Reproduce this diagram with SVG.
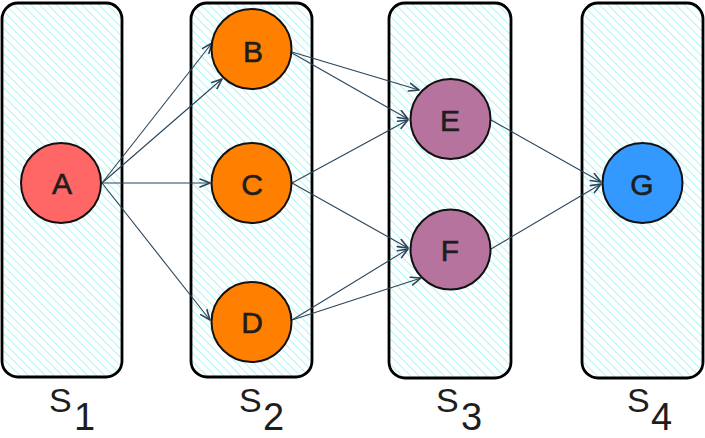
<svg xmlns="http://www.w3.org/2000/svg" width="705" height="438" viewBox="0 0 705 438">
  <defs>
    <pattern id="hatch" patternUnits="userSpaceOnUse" width="6" height="6" patternTransform="rotate(-45)">
      <rect width="6" height="6" fill="#ffffff"/>
      <line x1="0" y1="0" x2="0" y2="6" stroke="#a6f4f4" stroke-width="1.8"/>
    </pattern>
    <marker id="arrow" viewBox="0 0 12 10" refX="11" refY="5" markerWidth="12" markerHeight="10" markerUnits="userSpaceOnUse" orient="auto">
      <path d="M1,1 L11,5 L1,9" fill="none" stroke="#2b4459" stroke-width="1.6" stroke-linejoin="round" stroke-linecap="round"/>
    </marker>
  </defs>
  <style>
    .stage { fill: url(#hatch); stroke: #000; stroke-width: 2.8; }
    .node { stroke: #111; stroke-width: 2; }
    .lbl { font-family: "Liberation Sans", "DejaVu Sans", sans-serif; font-size: 30px; fill: #1e1e1e; stroke: #1e1e1e; stroke-width: 0.6; text-anchor: middle; }
    .stg { font-family: "Liberation Sans", "DejaVu Sans", sans-serif; fill: #1e1e1e; }
    .edge { fill: none; stroke: #2b4459; stroke-width: 1.1; marker-end: url(#arrow); }
  </style>

  <rect width="705" height="438" fill="#ffffff"/>

  <!-- stage columns -->
  <g id="stage-s1">
    <rect class="stage" x="2" y="3" width="120" height="374" rx="16"/>
    <text class="stg" x="49" y="412" font-size="34">S</text>
    <text class="stg" x="74" y="430" font-size="38">1</text>
  </g>
  <g id="stage-s2">
    <rect class="stage" x="191" y="3" width="121" height="374" rx="16"/>
    <text class="stg" x="239" y="412" font-size="34">S</text>
    <text class="stg" x="263" y="430" font-size="38">2</text>
  </g>
  <g id="stage-s3">
    <rect class="stage" x="389" y="3" width="122" height="375" rx="16"/>
    <text class="stg" x="436" y="412" font-size="34">S</text>
    <text class="stg" x="461" y="430" font-size="38">3</text>
  </g>
  <g id="stage-s4">
    <rect class="stage" x="582" y="3" width="121" height="375" rx="16"/>
    <text class="stg" x="627" y="412" font-size="34">S</text>
    <text class="stg" x="651" y="430" font-size="38">4</text>
  </g>

  <!-- connectors -->
  <g id="edges">
    <line class="edge" x1="102" y1="183" x2="212" y2="43"/>
    <line class="edge" x1="102" y1="183" x2="222" y2="79"/>
    <line class="edge" x1="102" y1="183" x2="210" y2="183"/>
    <line class="edge" x1="102" y1="183" x2="210" y2="320"/>
    <line class="edge" x1="292" y1="52" x2="419" y2="90"/>
    <line class="edge" x1="292" y1="53" x2="408" y2="119"/>
    <line class="edge" x1="292" y1="183" x2="408" y2="120"/>
    <line class="edge" x1="292" y1="183" x2="408" y2="248"/>
    <line class="edge" x1="292" y1="320" x2="408" y2="249"/>
    <line class="edge" x1="292" y1="320" x2="421" y2="278"/>
    <line class="edge" x1="491" y1="120" x2="601" y2="182"/>
    <line class="edge" x1="491" y1="249" x2="601" y2="184"/>
  </g>

  <!-- nodes -->
  <g id="node-a">
    <circle class="node" cx="61" cy="183" r="40" fill="#ff6666"/>
    <text class="lbl" x="62" y="194">A</text>
  </g>
  <g id="node-b">
    <circle class="node" cx="251.5" cy="49" r="40" fill="#ff8000"/>
    <text class="lbl" x="253" y="62">B</text>
  </g>
  <g id="node-c">
    <circle class="node" cx="251.5" cy="183" r="40" fill="#ff8000"/>
    <text class="lbl" x="252" y="195">C</text>
  </g>
  <g id="node-d">
    <circle class="node" cx="251.5" cy="322" r="40" fill="#ff8000"/>
    <text class="lbl" x="252" y="333">D</text>
  </g>
  <g id="node-e">
    <circle class="node" cx="450.5" cy="119" r="40" fill="#b5739d"/>
    <text class="lbl" x="450" y="131">E</text>
  </g>
  <g id="node-f">
    <circle class="node" cx="450.5" cy="249.5" r="40" fill="#b5739d"/>
    <text class="lbl" x="450" y="261">F</text>
  </g>
  <g id="node-g">
    <circle class="node" cx="642.5" cy="183" r="40" fill="#3399ff"/>
    <text class="lbl" x="642" y="195">G</text>
  </g>
</svg>
